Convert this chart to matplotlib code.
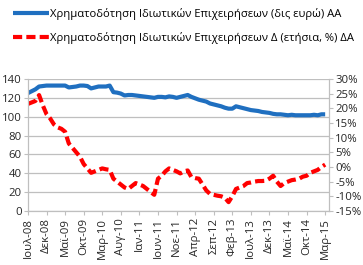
import matplotlib
matplotlib.use("Agg")
import matplotlib.pyplot as plt
import numpy as np

plt.rcParams["font.family"] = ["Open Sans", "DejaVu Sans"]

# ── data (monthly, Jul-08 .. Mar-15) ─────────────────────────────────────────
tick_labels = ["Ιουλ-08", "Δεκ-08", "Μαϊ-09", "Οκτ-09", "Μαρ-10", "Αυγ-10",
               "Ιαν-11", "Ιουν-11", "Νοε-11", "Απρ-12", "Σεπ-12", "Φεβ-13",
               "Ιουλ-13", "Δεκ-13", "Μαϊ-14", "Οκτ-14", "Μαρ-15"]

credit_bn = [125, 127, 129, 132, 132.5, 133, 133, 133, 133, 133,
             133, 131, 131.5, 132, 133, 133, 132.5, 130, 131, 132,
             132, 132, 133, 126, 125.5, 124.5, 122.5, 123, 123, 122.5,
             122, 121.5, 121, 120.5, 120, 121, 121, 120.5, 121.5, 121,
             120, 121, 122, 123, 121, 119.5, 118, 117, 116, 114,
             113, 112, 111, 109.5, 108.5, 108.5, 111, 110, 109, 108,
             107, 106.5, 106, 105, 104.5, 104, 103, 102.5, 102.5, 102,
             101.5, 102, 101.5, 101.5, 101.5, 101.5, 101.5, 102, 101.5, 102.5,
             102.5]

credit_yoy = [21.5, 22, 22.5, 24.5, 21, 18, 16.5, 14.5, 13.5, 13,
              12, 8, 6.5, 5, 3.5, 1, -0.5, -2, -1.5, -1,
              -0.5, -0.8, -1, -4, -5, -6, -7, -7.5, -6.5, -5.5,
              -6, -6.5, -7.5, -8.5, -9.5, -4, -3, -1.5, -0.5, -1,
              -1.5, -2.2, -1.5, -1.2, -3.5, -3.8, -4, -6, -8, -9.2,
              -9.5, -9.8, -10, -10.5, -12, -10, -7.5, -7, -6.5, -5.5,
              -5.3, -5, -4.8, -4.8, -4.7, -4, -3, -5, -6.5, -5.5,
              -5, -4.5, -4.3, -4, -3.3, -3, -2, -1.5, -1, 0,
              0.8]

label_aa = "Χρηματοδότηση Ιδιωτικών Επιχειρήσεων (δις ευρώ) AA"
label_da = "Χρηματοδότηση Ιδιωτικών Επιχειρήσεων Δ (ετήσια, %) ΔΑ"

BLUE = "#1F6FC0"
RED = "#FF0000"
GRID = "#BFBFBF"

months = np.arange(len(credit_bn))

fig = plt.figure(figsize=(3.63, 2.65), dpi=100)
ax = fig.add_axes([0.077, 0.204, 0.829, 0.498])
ax2 = ax.twinx()

l1, = ax.plot(months, credit_bn, color=BLUE, lw=3, solid_capstyle="butt")
l2, = ax2.plot(months, credit_yoy, color=RED, lw=3, dashes=(2.2, 1))

ax.set_ylim(0, 140)
ax.set_yticks(range(0, 141, 20))
ax2.set_ylim(-15, 30)
ax2.set_yticks(range(-15, 31, 5))
ax2.set_yticklabels([f"{v}%" for v in range(-15, 31, 5)])

ax.set_xlim(0, 81)
ax.set_xticks(np.arange(0, 81, 5))
ax.set_xticklabels(tick_labels, rotation=90, va="top", ha="center")

ax.grid(axis="y", color=GRID, lw=0.9)
ax.set_axisbelow(True)

for a in (ax, ax2):
    a.spines["top"].set_visible(False)
    for s in ("left", "right", "bottom"):
        a.spines[s].set_color(GRID)
    a.tick_params(colors="#262626", labelsize=8.2, length=3, color=GRID, pad=1.5)
ax.tick_params(axis="x", pad=2)

fig.legend([l1, l2], [label_aa, label_da], loc="upper left",
           bbox_to_anchor=(0.015, 1.0), frameon=False, fontsize=8.1,
           handlelength=3.2, handletextpad=0.1, labelspacing=1.05,
           borderaxespad=0.3)

fig.savefig("out.png", dpi=100)
